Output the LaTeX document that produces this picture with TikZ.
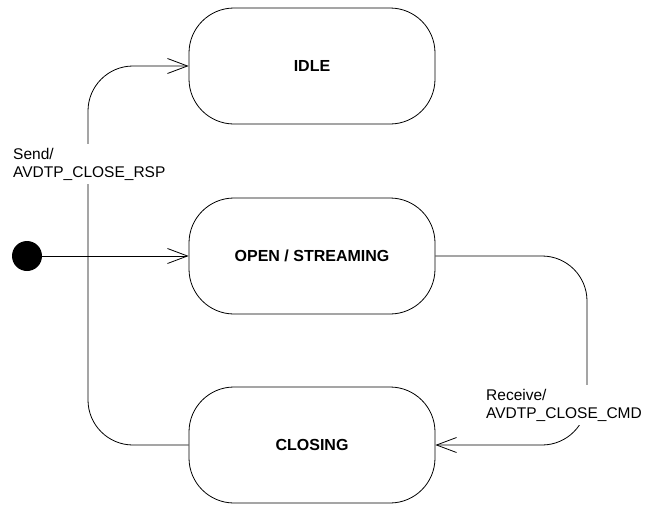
\documentclass[tikz,border=0pt]{standalone}
\usepackage{fontspec}
\setmainfont{Liberation Sans}
\usetikzlibrary{arrows.meta}
\tikzset{
  state/.style={draw, line width=0.8pt, rounded corners=45pt, minimum width=246pt,
    minimum height=116pt, font=\fontsize{16}{18}\selectfont\bfseries},
  trans/.style={line width=0.8pt, rounded corners=45pt},
  tip/.style={-{Straight Barb[length=20pt,width=15pt]}},
  lbl/.style={fill=white, align=left, inner xsep=1pt, inner ysep=4pt, font=\fontsize{15.5}{18}\selectfont}
}
\begin{document}
\begin{tikzpicture}[x=1pt,y=-1pt]
\useasboundingbox (0,0) rectangle (646,504);
\node[state] (idle) at (312,66) {IDLE};
\node[state] (open) at (312,256) {OPEN / STREAMING};
\node[state] (closing) at (312,445) {CLOSING};
\fill (27,256) circle[radius=15] coordinate (init);
\coordinate (sendx) at (88,0);
\coordinate (recx) at (587,0);
% initial transition
\draw[trans,tip] (init) -- (open.west);
% closing -> idle
\draw[trans,tip] (closing.west) -- (closing.west -| sendx) -- (idle.west -| sendx) -- (idle.west);
\node[lbl, anchor=west] (sendlbl) at (12,164) {Send/\\AVDTP\_CLOSE\_RSP};
% open -> closing
\draw[trans,tip] (open.east) -- (open.east -| recx) -- (closing.east -| recx) -- (closing.east);
\node[lbl, anchor=west] (reclbl) at (485,405) {Receive/\\AVDTP\_CLOSE\_CMD};
\end{tikzpicture}
\end{document}
